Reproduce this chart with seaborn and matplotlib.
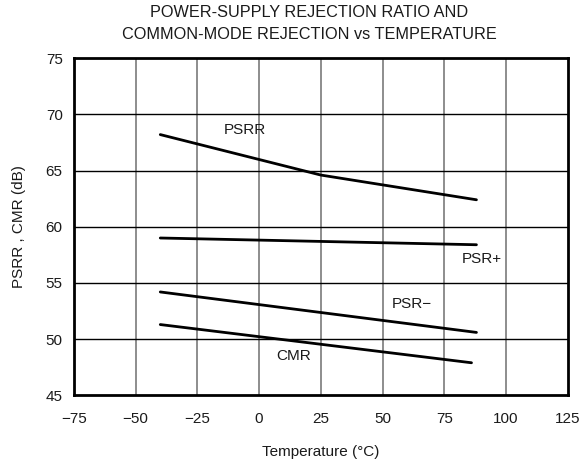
import pandas as pd
import matplotlib.pyplot as plt
import seaborn as sns

# curves (temperature in C, rejection in dB)
psrr_t = [-40, 25, 88]
psrr_db = [68.2, 64.6, 62.4]
psrp_t = [-40, 88]
psrp_db = [59.0, 58.4]
psrm_t = [-40, 88]
psrm_db = [54.2, 50.6]
cmr_t = [-40, 86]
cmr_db = [51.3, 47.9]

x_ticks = [-75, -50, -25, 0, 25, 50, 75, 100, 125]
x_labels = ["\u221275", "\u221250", "\u221225", "0", "25", "50", "75", "100", "125"]
y_ticks = [45, 50, 55, 60, 65, 70, 75]

df = pd.concat([
    pd.DataFrame({"temp": psrr_t, "db": psrr_db, "curve": "PSRR"}),
    pd.DataFrame({"temp": psrp_t, "db": psrp_db, "curve": "PSR+"}),
    pd.DataFrame({"temp": psrm_t, "db": psrm_db, "curve": "PSR\u2212"}),
    pd.DataFrame({"temp": cmr_t, "db": cmr_db, "curve": "CMR"}),
])

sns.set_style("white")
plt.rcParams["font.family"] = ["Liberation Sans", "DejaVu Sans"]
txt = "#1a1a1a"

fig, ax = plt.subplots(figsize=(5.86, 4.69), dpi=100)
fig.subplots_adjust(left=0.126, right=0.969, top=0.876, bottom=0.157)

sns.lineplot(data=df, x="temp", y="db", units="curve", estimator=None,
             color="black", linewidth=2, ax=ax, legend=False, sort=False)

ax.set_xlim(-75, 125)
ax.set_ylim(45, 75)
ax.set_xticks(x_ticks)
ax.set_xticklabels(x_labels)
ax.set_yticks(y_ticks)
ax.tick_params(axis="both", labelsize=11, length=0, colors=txt)
ax.tick_params(axis="x", pad=12)
ax.tick_params(axis="y", pad=8)

# gray verticals, black horizontals, as in the original
for x in x_ticks[1:-1]:
    ax.axvline(x, color="#858585", linewidth=1.3, zorder=0)
for y in y_ticks[1:-1]:
    ax.axhline(y, color="black", linewidth=1, zorder=0)

for s in ax.spines.values():
    s.set_color("black")
    s.set_linewidth(2)

ax.text(-5.8, 68.6, "PSRR", fontsize=11, ha="center", va="center", color=txt)
ax.text(90, 57.1, "PSR+", fontsize=11, ha="center", va="center", color=txt)
ax.text(62, 53.1, "PSR\u2212", fontsize=11, ha="center", va="center", color=txt)
ax.text(14, 48.5, "CMR", fontsize=11, ha="center", va="center", color=txt)

ax.set_xlabel("Temperature (\u00b0C)", fontsize=11, labelpad=14, color=txt)
ax.set_ylabel("PSRR , CMR (dB)", fontsize=11, labelpad=14, color=txt)
fig.text(0.528, 0.99, "POWER-SUPPLY REJECTION RATIO AND\nCOMMON-MODE REJECTION vs TEMPERATURE",
         fontsize=11.7, ha="center", va="top", linespacing=1.65, color=txt)

fig.savefig("out.png", dpi=100)
